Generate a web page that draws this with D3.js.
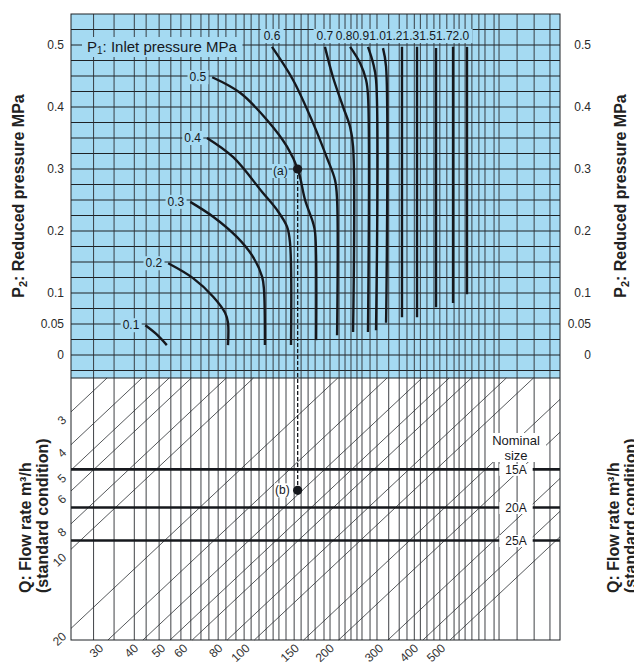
<!DOCTYPE html>
<html>
<head>
<meta charset="utf-8">
<script src="https://cdn.jsdelivr.net/npm/d3@7"></script>
<style>
  body { margin: 0; background: #fff; }
  svg { display: block; font-family: "Liberation Sans", Arial, Helvetica, sans-serif; }
</style>
</head>
<body>
<svg width="634" height="665"></svg>
<script>
// P1: inlet pressure of each curve, MPa
const inletP = [0.1, 0.2, 0.3, 0.4, 0.5, 0.6, 0.7, 0.8, 0.9, 1.0, 1.2, 1.3, 1.5, 1.7, 2.0];

// curve points: [flow factor (x, log), P2 MPa]
const curvePts = [
  [[0.150, 0.048], [0.164, 0.034], [0.179, 0.016]],
  [[0.181, 0.148], [0.222, 0.124], [0.262, 0.094], [0.289, 0.068], [0.296, 0.052], [0.296, 0.016]],
  [[0.217, 0.247], [0.262, 0.223], [0.319, 0.190], [0.364, 0.158], [0.392, 0.126], [0.398, 0.105], [0.401, 0.016]],
  [[0.249, 0.350], [0.309, 0.319], [0.392, 0.263], [0.443, 0.234], [0.481, 0.207], [0.493, 0.181], [0.497, 0.016]],
  [[0.260, 0.448], [0.327, 0.423], [0.408, 0.379], [0.481, 0.336], [0.527, 0.298], [0.558, 0.250], [0.596, 0.213], [0.606, 0.197], [0.611, 0.024]],
  [[0.425, 0.497], [0.505, 0.444], [0.596, 0.374], [0.668, 0.318], [0.714, 0.282], [0.726, 0.250], [0.726, 0.032]],
  [[0.657, 0.497], [0.702, 0.448], [0.763, 0.400], [0.808, 0.368], [0.828, 0.336], [0.828, 0.037]],
  [[0.808, 0.497], [0.877, 0.471], [0.921, 0.444], [0.936, 0.419], [0.936, 0.037]],
  [[0.936, 0.497], [0.976, 0.471], [1.000, 0.444], [1.000, 0.040]],
  [[1.059, 0.495], [1.086, 0.465], [1.086, 0.052]],
  [[1.238, 0.497], [1.238, 0.061]],
  [[1.401, 0.497], [1.401, 0.061]],
  [[1.638, 0.495], [1.638, 0.077]],
  [[1.884, 0.497], [1.884, 0.084]],
  [[2.113, 0.497], [2.113, 0.098]]
];

// vertical grid lines (flow factor)
const gridF = [0.098, 0.116, 0.137, 0.151, 0.168, 0.185, 0.201, 0.218, 0.237, 0.253, 0.273, 0.291,
  0.316, 0.338, 0.358, 0.382, 0.405, 0.429, 0.450, 0.477, 0.510, 0.540, 0.572, 0.606, 0.652, 0.685,
  0.738, 0.775, 0.814, 0.855, 0.891, 0.952, 1.008, 1.11, 1.21, 1.29, 1.37, 1.44, 1.52, 1.61, 1.69,
  1.79, 1.90, 1.98, 2.08, 2.20, 2.33, 2.45, 2.64, 2.75, 3.19, 3.67, 4.18];

const p2Ticks = [0, 0.05, 0.1, 0.2, 0.3, 0.4, 0.5];

// Q: flow rate m3/h of the diagonal lines
const qValues = [3, 4, 5, 6, 8, 10, 20, 30, 40, 50, 60, 80, 100, 150, 200, 300, 400, 500];

// nominal sizes and their capacity level (lower panel, log)
const sizeNames = ['15A', '20A', '25A'];
const sizeCap = [61.0, 85.2, 113.8];

// worked example: (a) on P1 = 0.5 at P2 = 0.3, (b) below it
const pointA = [0.525, 0.3];
const pointBCap = 73.3;

const L = 71, R = 560, T = 14, M = 378, B = 640;
const blue = '#a5daf2', ink = '#16181d';

const svg = d3.select('svg');

const x = d3.scaleLog().domain([0.0814, 4.54]).range([L, R]);
const yP = d3.scaleLinear().domain([0, 0.5]).range([355, 45]);
const yC = d3.scaleLog().domain([27.4, 272]).range([M, B]);

// upper panel
svg.append('rect').attr('x', L).attr('y', T).attr('width', R - L).attr('height', M - T).attr('fill', blue);

const grid = svg.append('g');
grid.selectAll('line.h')
  .data(d3.range(-0.025, 0.53, 0.025).filter(v => yP(v) > T + 1 && yP(v) < M - 1))
  .enter().append('line')
    .attr('x1', L).attr('x2', R)
    .attr('y1', d => yP(d)).attr('y2', d => yP(d))
    .attr('stroke', '#1e2226').attr('stroke-width', 1);

grid.selectAll('line.v')
  .data(gridF)
  .enter().append('line')
    .attr('x1', d => x(d)).attr('x2', d => x(d))
    .attr('y1', T).attr('y2', B)
    .attr('stroke', '#2a2d31').attr('stroke-width', 0.9);

// diagonals Q = f * c
const diag = svg.append('g');
const fMin = x.domain()[0], fMax = x.domain()[1];
const cMin = yC.domain()[0], cMax = yC.domain()[1];
qValues.forEach(q => {
  const f1 = Math.max(fMin, q / cMax);
  const f2 = Math.min(fMax, q / cMin);
  const p1 = [x(f1), yC(q / f1)], p2 = [x(f2), yC(q / f2)];
  diag.append('line')
    .attr('x1', p1[0]).attr('y1', p1[1]).attr('x2', p2[0]).attr('y2', p2[1])
    .attr('stroke', '#2a2d31').attr('stroke-width', 0.8);
  const ang = Math.atan2(p2[1] - p1[1], p2[0] - p1[0]);
  const ax = p1[0] - Math.cos(ang) * 9, ay = p1[1] - Math.sin(ang) * 9;
  diag.append('text')
    .attr('x', ax).attr('y', ay)
    .attr('text-anchor', 'end').attr('dominant-baseline', 'central')
    .attr('transform', `rotate(${ang * 180 / Math.PI},${ax},${ay})`)
    .attr('font-size', 12).attr('fill', '#333')
    .text(q);
});

// nominal size lines
const sizes = svg.append('g');
sizeCap.forEach(c => {
  sizes.append('line')
    .attr('x1', L).attr('x2', R).attr('y1', yC(c)).attr('y2', yC(c))
    .attr('stroke', ink).attr('stroke-width', 2.6);
});

// labels sit on boxes that hide the grid; boxes are drawn after layout
const boxG = svg.append('g');
const textG = svg.append('g');
const boxes = [];

function label(txt, px, py, anchor, size, bg, padX, padY) {
  const t = textG.append('text')
    .attr('x', px).attr('y', py)
    .attr('text-anchor', anchor).attr('dominant-baseline', 'central')
    .attr('font-size', size).attr('fill', ink)
    .text(txt);
  boxes.push({ node: t.node(), bg, padX, padY });
  return t;
}

sizeNames.forEach((s, i) => label(s, 516, yC(sizeCap[i]) + 0.5, 'middle', 12, '#fff', 6, -1));
textG.append('text').attr('x', 516).attr('y', 445).attr('text-anchor', 'middle')
  .attr('font-size', 13).attr('fill', ink).text('Nominal');
textG.append('text').attr('x', 516).attr('y', 460).attr('text-anchor', 'middle')
  .attr('font-size', 13).attr('fill', ink).text('size');
boxG.append('rect').attr('x', 486).attr('y', 433).attr('width', 60).attr('height', 29).attr('fill', '#fff');

// P1 curve labels
let cursor = null;
inletP.forEach((p, i) => {
  const s = curvePts[i][0];
  if (p <= 0.5) {
    label(p.toFixed(1), x(s[0]) - 6, yP(s[1]), 'end', 12, blue, 2, 0);
  } else if (p < 0.8) {
    label(p.toFixed(1), x(s[0]), 36, 'middle', 12, blue, 3, 0);
  } else {
    // packed row, each label right after the previous one
    const t = label(p.toFixed(1), 0, 36, 'start', 12, blue, 3, 0);
    const w = t.node().getComputedTextLength();
    const left = cursor === null ? x(s[0]) - 6 - w / 2 : cursor;
    t.attr('x', left);
    cursor = left + w;
  }
});

// P1 title
const p1t = textG.append('text').attr('x', 87).attr('y', 52).attr('font-size', 15).attr('fill', ink);
p1t.append('tspan').text('P');
p1t.append('tspan').attr('font-size', 10).attr('dy', 2).text('1');
p1t.append('tspan').attr('dy', -2).text(': Inlet pressure MPa');
boxes.push({ node: p1t.node(), bg: blue, padX: 5, padY: 1 });

// curves
const line = d3.line()
  .x(d => x(d[0]))
  .y(d => yP(d[1]))
  .curve(d3.curveCatmullRom.alpha(0.5));

svg.append('g').selectAll('path')
  .data(curvePts)
  .enter().append('path')
    .attr('d', line)
    .attr('fill', 'none')
    .attr('stroke', ink)
    .attr('stroke-width', 2.4);

// worked example
const ex = svg.append('g');
const axp = x(pointA[0]), ayp = yP(pointA[1]), byp = yC(pointBCap);
ex.append('line').attr('x1', axp).attr('x2', axp).attr('y1', ayp).attr('y2', byp)
  .attr('stroke', ink).attr('stroke-width', 1.3).attr('stroke-dasharray', '4,2');
ex.append('circle').attr('cx', axp).attr('cy', ayp).attr('r', 4.6).attr('fill', ink);
ex.append('circle').attr('cx', axp).attr('cy', byp).attr('r', 4.6).attr('fill', ink);
label('(a)', axp - 10, ayp + 2, 'end', 12, blue, 1, 0);
label('(b)', axp - 8, byp, 'end', 12, '#fff', 1, 0);

boxes.forEach(d => {
  const b = d.node.getBBox();
  boxG.append('rect')
    .attr('x', b.x - d.padX).attr('y', b.y - d.padY)
    .attr('width', b.width + 2 * d.padX).attr('height', b.height + 2 * d.padY)
    .attr('fill', d.bg);
});

// frame
svg.append('line').attr('x1', L).attr('x2', R).attr('y1', M).attr('y2', M)
  .attr('stroke', '#1e2226').attr('stroke-width', 1);
svg.append('rect').attr('x', L).attr('y', T).attr('width', R - L).attr('height', B - T)
  .attr('fill', 'none').attr('stroke', '#1e2226').attr('stroke-width', 1);

// P2 tick labels, both sides
[64, 591].forEach(px => {
  svg.append('g')
    .attr('transform', `translate(${px},0)`)
    .call(d3.axisLeft(yP).tickValues(p2Ticks).tickSize(0).tickPadding(0).tickFormat(d => String(d)))
    .attr('font-size', 12)
    .attr('font-family', '"Liberation Sans", Arial, sans-serif')
    .attr('color', '#2a2a2a')
    .call(g => g.select('.domain').remove());
});

// axis titles
function p2Title(xb) {
  const t = svg.append('text')
    .attr('transform', `translate(${xb},196) rotate(-90)`)
    .attr('text-anchor', 'middle')
    .attr('font-size', 16).attr('font-weight', 'bold').attr('fill', '#222');
  t.append('tspan').text('P');
  t.append('tspan').attr('font-size', 11).attr('dy', 3).text('2');
  t.append('tspan').attr('dy', -3).text(': Reduced pressure MPa');
}
p2Title(24);
p2Title(626);

function qTitle(x1, x2) {
  const g = svg.append('g').attr('font-size', 16).attr('font-weight', 'bold').attr('fill', '#222');
  g.append('text').attr('transform', `translate(${x1},593) rotate(-90)`).text('Q: Flow rate m³/h');
  g.append('text').attr('transform', `translate(${x2},593) rotate(-90)`).text('(standard condition)');
}
qTitle(31, 48);
// the reference runs this title past the right edge of the page
qTitle(619, 636);
</script>
</body>
</html>
